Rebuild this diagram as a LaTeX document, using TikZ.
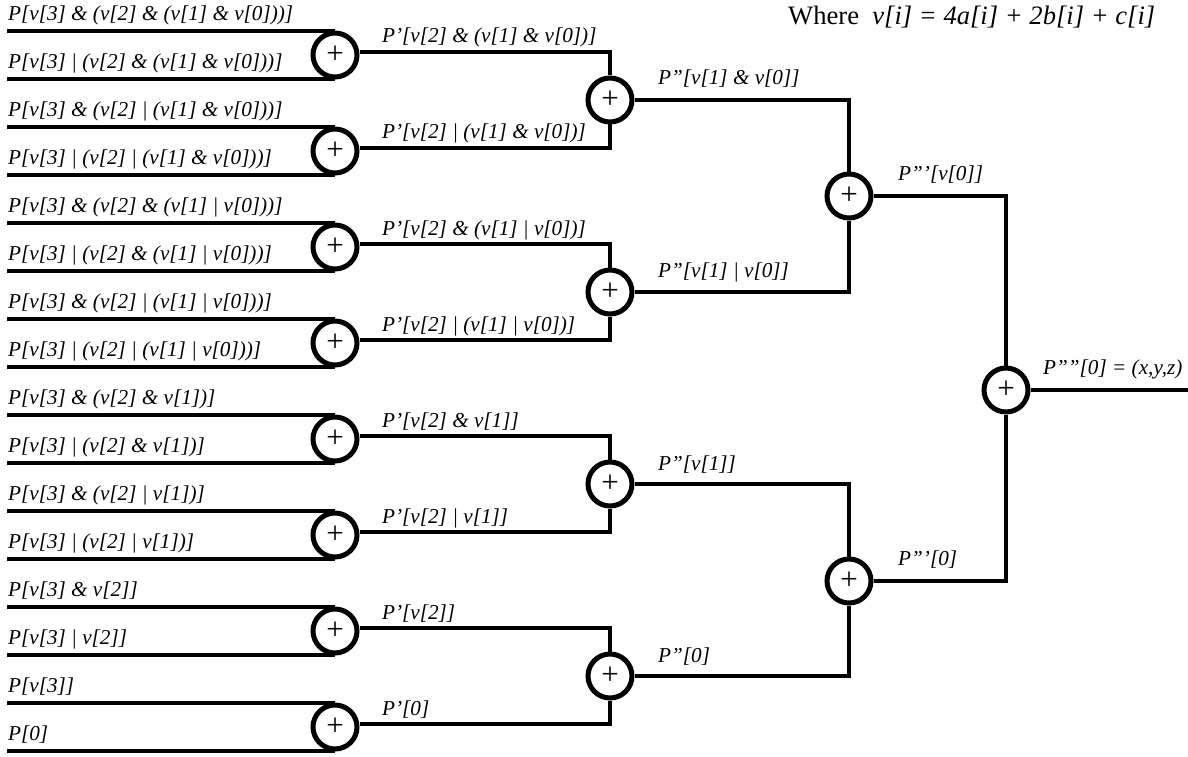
\documentclass[tikz,border=0pt]{standalone}
\usepackage{fontspec}
\setmainfont{Liberation Serif}
\begin{document}
\begin{tikzpicture}[x=1pt,y=-1pt,
  wire/.style={line width=4.5pt},
  adder/.style={circle,draw,line width=5pt,fill=white,minimum size=44pt,inner sep=0pt,
    font=\fontsize{31}{31}\selectfont},
  lbl/.style={anchor=base west,inner sep=0pt,font=\fontsize{21.2}{24}\selectfont\itshape}]
\useasboundingbox (0,0) rectangle (1188,757);

% first stage: sixteen inputs summed in pairs
\foreach \k/\ta/\tb in {
  0/{P[v[3] \& (v[2] \& (v[1] \& v[0]))]}/{P[v[3] | (v[2] \& (v[1] \& v[0]))]},
  1/{P[v[3] \& (v[2] | (v[1] \& v[0]))]}/{P[v[3] | (v[2] | (v[1] \& v[0]))]},
  2/{P[v[3] \& (v[2] \& (v[1] | v[0]))]}/{P[v[3] | (v[2] \& (v[1] | v[0]))]},
  3/{P[v[3] \& (v[2] | (v[1] | v[0]))]}/{P[v[3] | (v[2] | (v[1] | v[0]))]},
  4/{P[v[3] \& (v[2] \& v[1])]}/{P[v[3] | (v[2] \& v[1])]},
  5/{P[v[3] \& (v[2] | v[1])]}/{P[v[3] | (v[2] | v[1])]},
  6/{P[v[3] \& v[2]]}/{P[v[3] | v[2]]},
  7/{P[v[3]]}/{P[0]}}{
  \pgfmathsetmacro\c{55+96*\k}
  \node[adder] (a\k) at (335,\c) {+};
  \coordinate (it\k) at (7,{\c-24});
  \coordinate (ib\k) at (7,{\c+24});
  \draw[wire] (it\k) -- (it\k -| a\k);
  \draw[wire] (ib\k) -- (ib\k -| a\k);
  \node[lbl] (lt\k) at (8,{\c-34.5}) {\ta};
  \node[lbl] (lb\k) at (8,{\c+13.5}) {\tb};
}

% second stage
\foreach \j in {0,...,3}{
  \pgfmathsetmacro\c{100+192*\j}
  \node[adder] (b\j) at (610,\c) {+};
}
\foreach \j/\u/\l in {0/0/1, 1/2/3, 2/4/5, 3/6/7}{
  \draw[wire] ([yshift=3pt]a\u.east) -| (b\j.north);
  \draw[wire] ([yshift=3pt]a\l.east) -| (b\j.south);
}
\node[lbl] (m0) at (382,43) {P’[v[2] \& (v[1] \& v[0])]};
\node[lbl] (m1) at (382,139) {P’[v[2] | (v[1] \& v[0])]};
\node[lbl] (m2) at (382,235) {P’[v[2] \& (v[1] | v[0])]};
\node[lbl] (m3) at (382,331) {P’[v[2] | (v[1] | v[0])]};
\node[lbl] (m4) at (382,427) {P’[v[2] \& v[1]]};
\node[lbl] (m5) at (382,523) {P’[v[2] | v[1]]};
\node[lbl] (m6) at (382,619) {P’[v[2]]};
\node[lbl] (m7) at (382,715) {P’[0]};

% third stage
\node[adder] (c0) at (849,196) {+};
\node[adder] (c1) at (849,581) {+};
\draw[wire] (b0.east) -| (c0.north);
\draw[wire] (b1.east) -| (c0.south);
\draw[wire] (b2.east) -| (c1.north);
\draw[wire] (b3.east) -| (c1.south);
\node[lbl] (n0) at (658,85) {P”[v[1] \& v[0]]};
\node[lbl] (n1) at (658,277) {P”[v[1] | v[0]]};
\node[lbl] (n2) at (658,470) {P”[v[1]]};
\node[lbl] (n3) at (658,662) {P”[0]};

% final stage
\node[adder] (d0) at (1006,390) {+};
\draw[wire] (c0.east) -| (d0.north);
\draw[wire] (c1.east) -| (d0.south);
\node[lbl] (o0) at (898,180) {P”’[v[0]]};
\node[lbl] (o1) at (898,565) {P”’[0]};
\coordinate (out) at (1188,390);
\draw[wire] (d0.east) -- (out);
\node[lbl] (res) at (1043,374) {P””[0] = (x,y,z)};

% definition of v[i]
\node[anchor=base west,inner sep=0pt,font=\fontsize{26.6}{30}\selectfont] (note) at (788,25)
  {Where\ \ \textit{v[i] = 4a[i] + 2b[i] + c[i]}};
\end{tikzpicture}
\end{document}
